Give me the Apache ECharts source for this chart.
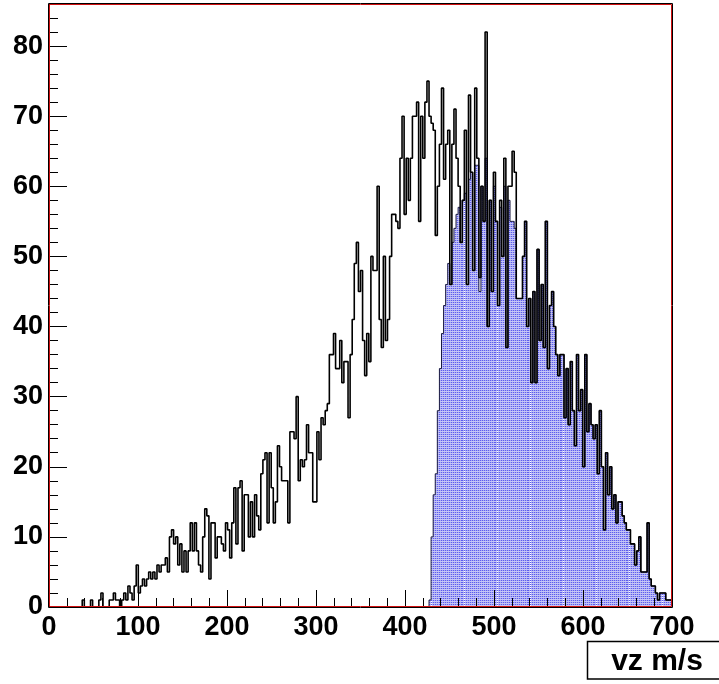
<!DOCTYPE html>
<html>
<head>
<meta charset="utf-8">
<script src="https://cdn.jsdelivr.net/npm/echarts@6/dist/echarts.min.js"></script>
<style>
  html, body { margin: 0; padding: 0; background: #fff; }
  #chart { width: 719px; height: 684px; }
</style>
</head>
<body>
<div id="chart"></div>
<script>
// Histogram binning: 300 bins over 0..700 m/s
const X_MIN = 0;
const X_MAX = 700;
const N_BINS = 300;

// All events: counts per bin (bin 0 .. 299)
const allCounts = [
  0, 0, 0, 0, 0, 0, 0, 0, 0, 0,
  0, 0, 0, 0, 0, 0, 1, 0, 0, 0,
  1, 0, 0, 0, 1, 2, 0, 0, 0, 1,
  1, 2, 1, 1, 0, 1, 2, 1, 3, 2,
  1, 3, 6, 2, 3, 4, 3, 4, 5, 4,
  5, 4, 6, 5, 6, 6, 7, 5, 10, 11,
  9, 10, 6, 9, 5, 8, 5, 8, 12, 8,
  12, 8, 6, 5, 10, 14, 13, 4, 12, 12,
  7, 10, 10, 9, 8, 12, 11, 7, 12, 17,
  9, 17, 18, 8, 16, 16, 10, 15, 10, 16,
  13, 11, 19, 21, 22, 12, 22, 17, 12, 15,
  23, 20, 18, 18, 18, 12, 25, 25, 24, 30,
  18, 21, 20, 21, 26, 22, 22, 15, 15, 25,
  21, 27, 26, 28, 29, 36, 36, 39, 34, 34,
  38, 32, 35, 35, 27, 36, 41, 49, 52, 45,
  48, 38, 33, 39, 35, 50, 48, 48, 60, 41,
  37, 50, 38, 41, 50, 56, 56, 55, 54, 64,
  70, 56, 64, 58, 64, 70, 70, 72, 55, 70,
  64, 72, 75, 70, 69, 68, 53, 60, 66, 74,
  61, 66, 68, 46, 66, 71, 64, 60, 52, 58,
  68, 46, 73, 62, 48, 74, 64, 47, 60, 55,
  82, 40, 58, 45, 62, 55, 43, 58, 50, 64,
  37, 60, 60, 65, 62, 44, 44, 44, 50, 55,
  40, 44, 32, 45, 32, 51, 38, 46, 37, 55,
  34, 43, 45, 40, 36, 33, 36, 36, 27, 34,
  26, 35, 28, 23, 36, 28, 31, 20, 36, 25,
  29, 26, 24, 26, 19, 28, 20, 11, 22, 16,
  20, 14, 16, 12, 15, 15, 13, 12, 11, 11,
  9, 9, 6, 8, 10, 5, 5, 5, 12, 4,
  3, 3, 2, 1, 2, 2, 2, 1, 1, 1
];

// Selected events: first filled bin and counts from there on
const selStartBin = 182;
const selCounts = [
  0, 1, 10, 16, 19, 28, 34, 39,
  43, 46, 49, 46, 52, 54, 56, 57, 52, 58,
  59, 46, 61, 62, 48, 63, 63, 45, 60, 55,
  64, 40, 58, 45, 60, 55, 43, 57, 50, 60,
  37, 58, 55, 55, 54, 44, 44, 44, 50, 55,
  40, 44, 32, 45, 32, 51, 38, 46, 37, 55,
  34, 43, 45, 40, 36, 33, 36, 36, 27, 34,
  26, 35, 28, 23, 36, 28, 31, 20, 36, 25,
  29, 26, 24, 26, 19, 28, 20, 11, 22, 16,
  20, 14, 16, 12, 15, 15, 13, 12, 11, 11,
  9, 9, 6, 8, 10, 5, 5, 5, 12, 4,
  3, 3, 2, 1, 2, 2, 2, 1, 1, 1
];

const xTitle = 'vz m/s';

const BIN_W = (X_MAX - X_MIN) / N_BINS;

// Points at bin low edges, plus the closing upper edge, for a stepped outline
function stepPoints(firstBin, counts) {
  const pts = counts.map((v, i) => [X_MIN + (firstBin + i) * BIN_W, v]);
  pts.push([X_MIN + (firstBin + counts.length) * BIN_W, counts[counts.length - 1]]);
  return pts;
}

// Dotted blue hatch used for the selected-events fill
function makeHatch() {
  const c = document.createElement('canvas');
  c.width = 33; c.height = 2;
  const g = c.getContext('2d');
  g.fillStyle = '#c4c4f6';
  g.fillRect(0, 0, 33, 2);
  for (let x = 0; x < 33; x++) {
    g.fillStyle = (x % 2 === 0) ? '#5c5cee' : '#a8a8f2';
    g.fillRect(x, 0, 1, 1);
  }
  g.fillStyle = '#ffffff';
  g.fillRect(2, 1, 1, 1);
  return c;
}

const FONT = '"Liberation Sans", Arial, Helvetica, sans-serif';
const labelStyle = { color: '#000', fontFamily: FONT, fontWeight: 'bold', fontSize: 27 };

const chart = echarts.init(document.getElementById('chart'), null, { renderer: 'canvas' });

const GL = 49, GT = 4, GW = 623, GH = 603;

chart.setOption({
  animation: false,
  backgroundColor: '#fff',
  grid: { left: GL, top: GT, width: GW, height: GH, containLabel: false, show: false },
  xAxis: [{
    type: 'value', min: X_MIN, max: X_MAX, interval: 100, z: 10,
    axisLine: { show: false },
    splitLine: { show: false },
    axisTick: { inside: true, length: 17, lineStyle: { color: '#000', width: 1 } },
    minorTick: { show: true, splitNumber: 5, length: 9, lineStyle: { color: '#000', width: 1 } },
    axisLabel: Object.assign({ margin: 7 }, labelStyle)
  }],
  yAxis: [{
    type: 'value', min: 0, max: 86, interval: 10, z: 10,
    axisLine: { show: false },
    splitLine: { show: false },
    axisTick: { inside: true, length: 18, lineStyle: { color: '#000', width: 1 } },
    axisLabel: Object.assign({ margin: 6, showMaxLabel: false }, labelStyle)
  }, {
    type: 'value', min: 0, max: 86, interval: 2, position: 'left', z: 10,
    axisLine: { show: false },
    splitLine: { show: false },
    axisTick: { inside: true, length: 9, lineStyle: { color: '#000', width: 1 } },
    axisLabel: { show: false }
  }],
  series: [{
    type: 'line',
    step: 'end',
    xAxisIndex: 0, yAxisIndex: 0,
    data: stepPoints(selStartBin, selCounts),
    symbol: 'none',
    lineStyle: { color: '#1a1a40', width: 1 },
    areaStyle: { color: { image: makeHatch(), repeat: 'repeat' }, opacity: 1, origin: 'start' },
    z: 2
  }, {
    type: 'line',
    step: 'end',
    xAxisIndex: 0, yAxisIndex: 0,
    data: stepPoints(0, allCounts),
    symbol: 'none',
    lineStyle: { color: '#000', width: 1.6 },
    z: 3
  }],
  graphic: [
    // frame: black outer line with a red inner line
    { type: 'rect', z: 100, silent: true,
      shape: { x: GL - 0.5, y: GT - 0.5, width: GW + 1, height: GH + 1 },
      style: { fill: null, stroke: '#000', lineWidth: 1 } },
    { type: 'rect', z: 101, silent: true,
      shape: { x: GL + 0.5, y: GT + 0.5, width: GW - 1, height: GH - 1 },
      style: { fill: null, stroke: '#d01010', lineWidth: 1 } },
    // axis title box
    { type: 'rect', z: 100, silent: true,
      shape: { x: 587.5, y: 641.5, width: 140, height: 37.5 },
      style: { fill: '#fff', stroke: '#000', lineWidth: 1.5 } },
    { type: 'text', z: 101, silent: true,
      x: 657, y: 662,
      style: { text: xTitle, fill: '#000', font: 'bold 30px ' + FONT, align: 'center', verticalAlign: 'middle' } }
  ]
});
</script>
</body>
</html>
